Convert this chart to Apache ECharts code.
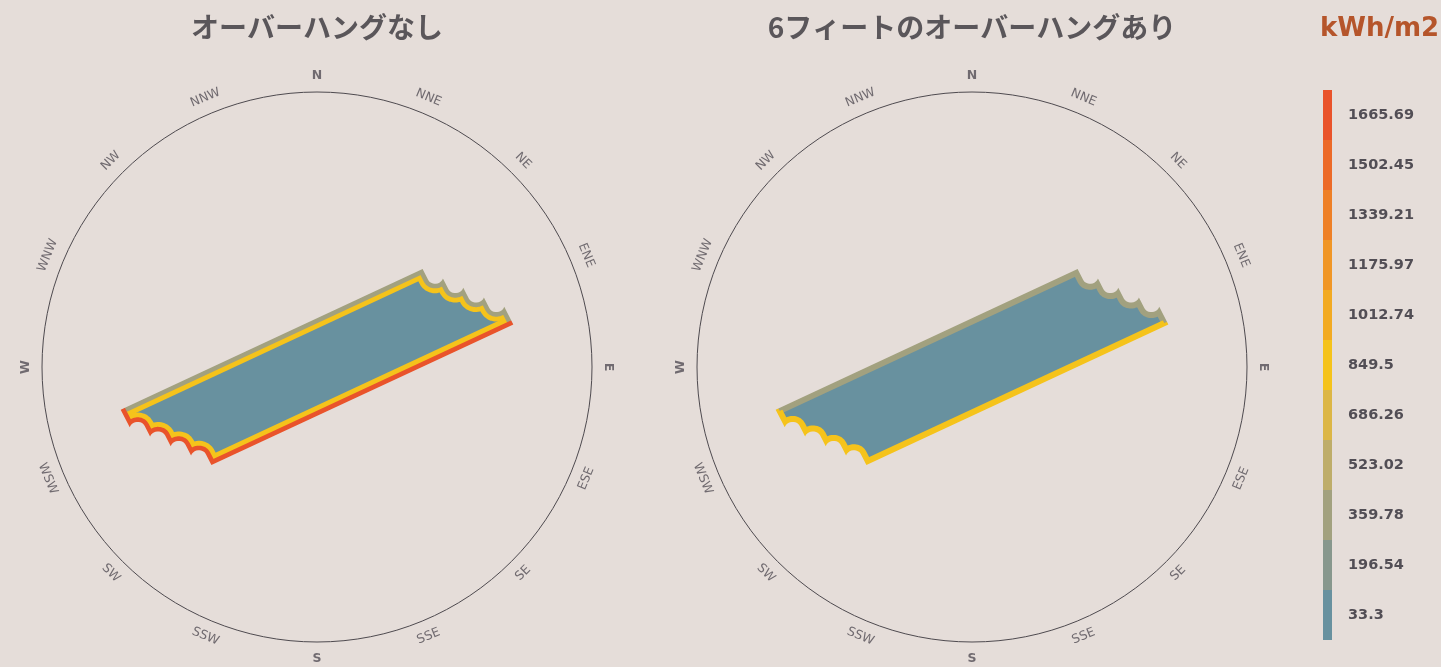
<!DOCTYPE html>
<html><head><meta charset="utf-8">
<script src="https://cdn.jsdelivr.net/npm/echarts@6/dist/echarts.min.js"></script>
<style>html,body{margin:0;padding:0;background:#e5ddd9}#c{width:1441px;height:667px}</style>
</head><body><div id="c"></div>
<script>
// ---------- data ----------
const chartTitles = ['オーバーハングなし', '6フィートのオーバーハングあり'];
const unitLabel = 'kWh/m2';
const compassLabels = ['N','NNE','NE','ENE','E','ESE','SE','SSE','S','SSW','SW','WSW','W','WNW','NW','NNW'];
const compassBearings = [0,22.5,45,67.5,90,112.5,135,157.5,180,202.5,225,247.5,270,292.5,315,337.5];
const legendValues = [33.3, 196.54, 359.78, 523.02, 686.26, 849.5, 1012.74, 1175.97, 1339.21, 1502.45, 1665.69];
const legendColors = ['#68919f','#87978d','#a2a17f','#bead6a','#dcb646','#f5c31b','#f2aa22','#f09626','#ee8027','#ec6a28','#e9532b'];

const surfaces = ['North wall', 'East wall', 'South wall', 'West wall'];
// outer (upper) and inner (lower) band values per wall, kWh/m2
const noOverhangOuter = [359.78, 359.78, 1665.69, 1665.69];
const noOverhangInner = [849.5, 849.5, 849.5, 849.5];
const overhangOuter   = [359.78, 359.78, 849.5, 849.5];
const overhangInner   = [359.78, 359.78, 849.5, 849.5];
const groundValues    = [33.3, 33.3];

// building plan, in units of compass radius (x east, y north)
const northWall = [[-0.714,-0.155],[0.384,0.356]];
const southWall = [[0.714,0.155],[-0.384,-0.356]];
const eastTips  = [[0.384,0.356],[0.458,0.322],[0.532,0.288],[0.607,0.253],[0.681,0.219]];
const eastFeet  = [[0.404,0.317],[0.478,0.283],[0.552,0.249],[0.627,0.214],[0.714,0.155]];
const westTips  = [[-0.384,-0.356],[-0.458,-0.322],[-0.532,-0.288],[-0.607,-0.253],[-0.681,-0.219]];
const westFeet  = [[-0.404,-0.317],[-0.478,-0.283],[-0.552,-0.249],[-0.627,-0.214],[-0.714,-0.155]];

// ---------- layout / style ----------
const BG = '#e5ddd9';
const centers = [[317,367],[972,367]];
const R = 275;
const bandWidths = [[4.6,4.8],[3.0,3.0]];
const cases = [
  {outer: noOverhangOuter, inner: noOverhangInner, ground: groundValues[0]},
  {outer: overhangOuter, inner: overhangInner, ground: groundValues[1]}
];
const textGray = '#524e55';

function colorFor(v) {
  let best = 0, bd = Infinity;
  legendValues.forEach((lv, i) => { const d = Math.abs(lv - v); if (d < bd) { bd = d; best = i; } });
  return legendColors[best];
}

// sawtooth wall: straight drop tip->foot, then a scalloped curve foot->next tip
function edgePoints(api, tips, feet) {
  const out = [];
  const N = 10;
  for (let i = 0; i < tips.length; i++) {
    const t = api.coord(tips[i]), f = api.coord(feet[i]);
    out.push(t, f);
    if (i < tips.length - 1) {
      const nt = api.coord(tips[i + 1]);
      const v = [f[0] - t[0], f[1] - t[1]];
      const c = [nt[0] - f[0], nt[1] - f[1]];
      const p1 = [f[0] + 0.55 * v[0], f[1] + 0.55 * v[1]];
      const p2 = [nt[0] + 0.55 * v[0] - 0.35 * c[0], nt[1] + 0.55 * v[1] - 0.35 * c[1]];
      for (let j = 1; j < N; j++) {
        const u = j / N, a = (1 - u) ** 3, b = 3 * u * (1 - u) ** 2, cc = 3 * u * u * (1 - u), d = u ** 3;
        out.push([a * f[0] + b * p1[0] + cc * p2[0] + d * nt[0], a * f[1] + b * p1[1] + cc * p2[1] + d * nt[1]]);
      }
    }
  }
  return out;
}

function makeRender(ci) {
  return function (params, api) {
    const ring = [], seg = [];
    ring.push(api.coord(northWall[0])); seg.push(0);
    const east = edgePoints(api, eastTips, eastFeet);
    east.forEach((p, i) => { ring.push(p); seg.push(i === east.length - 1 ? 2 : 1); });
    const west = edgePoints(api, westTips, westFeet);
    west.slice(0, -1).forEach(p => { ring.push(p); seg.push(3); });
    const n = ring.length;
    const wallPts = surfaces.map((s, w) => {
      const pts = []; let last = -1;
      for (let i = 0; i < n; i++) if (seg[i] === w) { pts.push(ring[i]); last = i; }
      pts.push(ring[(last + 1) % n]);
      return pts;
    });
    let area = 0;
    for (let i = 0; i < n; i++) { const p = ring[i], q = ring[(i + 1) % n]; area += p[0] * q[1] - q[0] * p[1]; }
    let x0 = Infinity, y0 = Infinity, x1 = -Infinity, y1 = -Infinity;
    ring.forEach(p => { x0 = Math.min(x0, p[0]); y0 = Math.min(y0, p[1]); x1 = Math.max(x1, p[0]); y1 = Math.max(y1, p[1]); });
    const m = 20; x0 -= m; y0 -= m; x1 += m; y1 += m;
    const rect = area > 0 ? [[x0,y0],[x0,y1],[x1,y1],[x1,y0]] : [[x0,y0],[x1,y0],[x1,y1],[x0,y1]];
    const toPath = pts => 'M' + pts.map(p => p[0].toFixed(2) + ' ' + p[1].toFixed(2)).join(' L') + ' Z';
    const maskPath = toPath(rect) + ' ' + toPath(ring);

    const cs = cases[ci], bw = bandWidths[ci];
    const children = [{
      type: 'polygon', z2: 0, shape: {points: ring},
      style: {fill: colorFor(cs.ground), stroke: 'none'}
    }];
    wallPts.forEach((pts, w) => children.push({
      type: 'polyline', z2: 1, shape: {points: pts},
      style: {fill: 'none', stroke: colorFor(cs.inner[w]), lineWidth: 2 * (bw[0] + bw[1]), lineJoin: 'round'}
    }));
    wallPts.forEach((pts, w) => children.push({
      type: 'polyline', z2: 2, shape: {points: pts},
      style: {fill: 'none', stroke: colorFor(cs.outer[w]), lineWidth: 2 * bw[0], lineJoin: 'round'}
    }));
    children.push({type: 'path', z2: 3, shape: {pathData: maskPath}, style: {fill: BG, stroke: 'none'}});
    return {type: 'group', children};
  };
}

function labelRotate(b) {
  if (b > 90 && b < 270) return 180 - b;
  return b <= 90 ? -b : 360 - b;
}

const chart = echarts.init(document.getElementById('c'), null, {renderer: 'canvas'});
const titleStyle = {fontFamily: '"Noto Sans CJK JP", sans-serif', fontWeight: 'bold', fontSize: 28, color: '#5a565a'};
const option = {
  backgroundColor: BG,
  animation: false,
  title: [
    {text: chartTitles[0], left: centers[0][0], top: 13, textAlign: 'center', padding: 0, textStyle: titleStyle},
    {text: chartTitles[1], left: centers[1][0], top: 13, textAlign: 'center', padding: 0, textStyle: titleStyle},
    {text: unitLabel, left: 1320, top: 16, padding: 0,
     textStyle: {fontFamily: '"DejaVu Sans", sans-serif', fontWeight: 'bold', fontSize: 26, color: '#b5552b'}}
  ],
  polar: centers.map(c => ({center: c, radius: R})),
  angleAxis: centers.map((c, i) => ({
    polarIndex: i, type: 'value', min: 0, max: 360, startAngle: 90, clockwise: true,
    axisLine: {show: true, lineStyle: {color: '#4e4a4f', width: 1}},
    axisTick: {show: false}, axisLabel: {show: false}, splitLine: {show: false}
  })),
  radiusAxis: centers.map((c, i) => ({polarIndex: i, type: 'value', min: 0, max: 1, show: false,
    splitLine: {show: false}, axisLine: {show: false}})),
  grid: centers.map(c => ({left: c[0] - R, top: c[1] - R, width: 2 * R, height: 2 * R, containLabel: false})),
  xAxis: centers.map((c, i) => ({gridIndex: i, type: 'value', min: -1, max: 1, show: false})),
  yAxis: centers.map((c, i) => ({gridIndex: i, type: 'value', min: -1, max: 1, show: false})),
  visualMap: {
    type: 'piecewise', seriesIndex: [], orient: 'vertical',
    left: 1323, top: 90, itemWidth: 9, itemHeight: 50, itemGap: 0, textGap: 16, padding: 0,
    align: 'left', itemSymbol: 'rect', selectedMode: false, hoverLink: false, showLabel: true,
    pieces: legendValues.map((v, i) => ({value: v, label: String(v), color: legendColors[i]})),
    textStyle: {fontFamily: '"DejaVu Sans", sans-serif', fontWeight: 'bold', fontSize: 14.5, color: textGray}
  },
  series: [
    ...centers.map((c, i) => ({
      type: 'scatter', coordinateSystem: 'polar', polarIndex: i, clip: false, silent: true, symbolSize: 0,
      label: {show: true, position: 'inside', formatter: '{b}', fontFamily: '"DejaVu Sans", sans-serif', fontSize: 12.5, color: textGray},
      data: compassLabels.map((name, k) => ({
        name, value: [1.06, compassBearings[k]],
        label: {rotate: labelRotate(compassBearings[k]), fontWeight: k % 4 === 0 ? 'bold' : 'normal'}
      }))
    })),
    ...centers.map((c, i) => ({
      type: 'custom', coordinateSystem: 'cartesian2d', xAxisIndex: i, yAxisIndex: i,
      silent: true, clip: false,
      data: [[0, 0]],
      renderItem: makeRender(i)
    }))
  ]
};
chart.setOption(option);
</script></body></html>
